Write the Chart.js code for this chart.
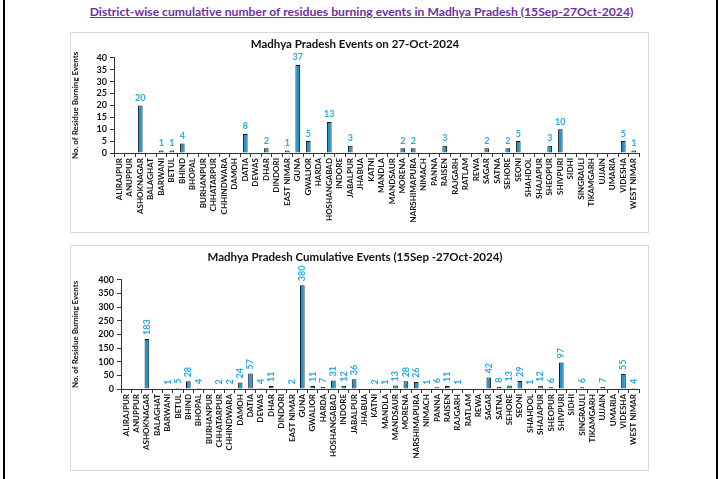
<!DOCTYPE html>
<html>
<head>
<meta charset="utf-8">
<script src="https://cdn.jsdelivr.net/npm/chart.js@4.4.0/dist/chart.umd.min.js"></script>
<style>
  body { margin: 0; background: #fff; font-family: Lato, "Liberation Sans", sans-serif; }
  #page { position: relative; width: 723px; height: 479px; overflow: hidden; }
  #edgeL { position: absolute; left: 3px; top: 0; width: 2px; height: 479px; background: #000; }
  #edgeR { position: absolute; left: 716px; top: 0; width: 2px; height: 479px; background: #000; }
  #heading { position: absolute; left: 0; top: 4px; width: 723px; text-align: center;
    color: #7030a0; font-weight: bold; font-size: 12.2px; text-decoration: underline; }
  .box { position: absolute; left: 70px; width: 577px; border: 1px solid #d9d9d9; background: #fff; }
  #box1 { top: 32px; height: 199px; }
  #box2 { top: 245px; height: 224px; }
</style>
</head>
<body>
<div id="page">
  <div id="edgeL"></div><div id="edgeR"></div>
  <div id="heading">District-wise cumulative number of residues burning events in Madhya Pradesh (15Sep-27Oct-2024)</div>
  <div class="box" id="box1"><canvas id="daily" width="577" height="199"></canvas></div>
  <div class="box" id="box2"><canvas id="cumulative" width="577" height="224"></canvas></div>
</div>
<script>
// districts, same order in both charts
const districts = ["ALIRAJPUR", "ANUPPUR", "ASHOKNAGAR", "BALAGHAT", "BARWANI", "BETUL", "BHIND", "BHOPAL",
  "BURHANPUR", "CHHATARPUR", "CHHINDWARA", "DAMOH", "DATIA", "DEWAS", "DHAR", "DINDORI", "EAST NIMAR",
  "GUNA", "GWALIOR", "HARDA", "HOSHANGABAD", "INDORE", "JABALPUR", "JHABUA", "KATNI", "MANDLA",
  "MANDSAUR", "MORENA", "NARSHIMAPURA", "NIMACH", "PANNA", "RAISEN", "RAJGARH", "RATLAM", "REWA",
  "SAGAR", "SATNA", "SEHORE", "SEONI", "SHAHDOL", "SHAJAPUR", "SHEOPUR", "SHIVPURI", "SIDHI",
  "SINGRAULI", "TIKAMGARH", "UJJAIN", "UMARIA", "VIDESHA", "WEST NIMAR"];

// events on 27-Oct-2024
const dailyEvents = [0, 0, 20, 0, 1, 1, 4, 0, 0, 0, 0, 0, 8, 0, 2, 0, 1, 37, 5, 0, 13, 0, 3, 0, 0, 0,
  0, 2, 2, 0, 0, 3, 0, 0, 0, 2, 0, 2, 5, 0, 0, 3, 10, 0, 0, 0, 0, 0, 5, 1];

// cumulative 15Sep - 27Oct-2024
const cumulativeEvents = [0, 0, 183, 0, 1, 5, 28, 4, 0, 2, 2, 24, 57, 4, 11, 0, 2, 380, 11, 7, 31, 12, 36, 0, 2, 1,
  13, 28, 26, 1, 6, 11, 1, 0, 0, 42, 8, 13, 29, 1, 12, 6, 97, 0, 6, 0, 7, 0, 55, 4];

const barFill = "#1b96d3";
const labelBlue = "#29a9e1";
const fontFam = "Lato, 'Liberation Sans', sans-serif";

// draws the value above each non-zero bar
const valueLabels = {
  id: "valueLabels",
  afterDatasetsDraw(chart, args, opts) {
    const ctx = chart.ctx;
    const meta = chart.getDatasetMeta(0);
    const vals = chart.data.datasets[0].data;
    ctx.save();
    ctx.fillStyle = labelBlue;
    ctx.font = "bold " + opts.size + "px " + fontFam;
    meta.data.forEach((bar, i) => {
      if (!vals[i]) return;
      if (opts.rotate) {
        ctx.save();
        ctx.translate(bar.x, bar.y - 4);
        ctx.rotate(-Math.PI / 2);
        ctx.textAlign = "left";
        ctx.textBaseline = "middle";
        ctx.fillText(String(vals[i]), 0, 0);
        ctx.restore();
      } else {
        ctx.textAlign = "center";
        ctx.textBaseline = "bottom";
        ctx.fillText(String(vals[i]), bar.x, bar.y - 3);
      }
    });
    ctx.restore();
  }
};

function makeChart(id, title, values, yMax, yStep, yWidth, xHeight, titleGap, rotate) {
  return new Chart(document.getElementById(id), {
    type: "bar",
    data: {
      labels: districts,
      datasets: [{
        data: values,
        backgroundColor: barFill,
        borderColor: "#111",
        borderWidth: 1,
        barPercentage: 0.45,
        categoryPercentage: 1
      }]
    },
    options: {
      responsive: false,
      animation: false,
      layout: { padding: { left: 0, right: 9, top: 0, bottom: 0 } },
      plugins: {
        legend: { display: false },
        tooltip: { enabled: false },
        title: {
          display: true, text: title, color: "#111",
          font: { family: fontFam, size: 11.5, weight: "bold" },
          padding: { top: 4, bottom: titleGap }
        },
        valueLabels: { size: 9, rotate: rotate }
      },
      scales: {
        x: {
          grid: { display: true, drawOnChartArea: false, offset: true, color: "#333", tickLength: 4 },
          border: { color: "#333", width: 1 },
          ticks: {
            color: "#111", autoSkip: false, maxRotation: 90, minRotation: 90, padding: 1,
            font: { family: fontFam, size: 8, weight: "bold" }
          },
          afterFit(scale) { scale.height = xHeight; }
        },
        y: {
          min: 0, max: yMax,
          grid: { display: true, drawOnChartArea: false, color: "#333", tickLength: 4 },
          border: { color: "#333", width: 1 },
          ticks: {
            stepSize: yStep, autoSkip: false, color: "#111", padding: 3,
            font: { family: fontFam, size: 9, weight: "bold" }
          },
          title: {
            display: true, text: "No. of Residue Burning Events", color: "#111",
            font: { family: fontFam, size: 8, weight: "bold" }, padding: 0
          },
          afterFit(scale) { scale.width = yWidth; }
        }
      }
    },
    plugins: [valueLabels]
  });
}

makeChart("daily", "Madhya Pradesh Events on 27-Oct-2024", dailyEvents, 40, 5, 43, 79, 7, false);
makeChart("cumulative", "Madhya Pradesh Cumulative Events (15Sep -27Oct-2024)", cumulativeEvents, 400, 50, 50, 81, 16, true);
</script>
</body>
</html>
